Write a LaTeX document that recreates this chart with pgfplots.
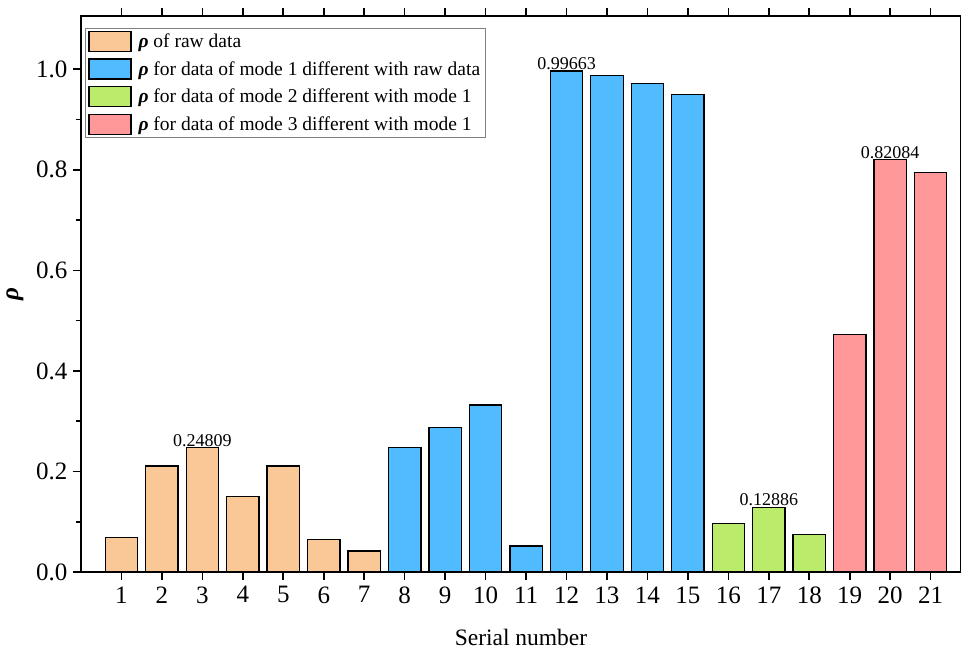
\documentclass[border=0pt]{standalone}
\usepackage{pgfplots}
\pgfplotsset{compat=1.18}
\usepackage{fontspec}
\setmainfont{Liberation Serif}
\definecolor{cpeach}{RGB}{250,200,150}
\definecolor{cblue}{RGB}{80,187,255}
\definecolor{cgreen}{RGB}{186,235,106}
\definecolor{cpink}{RGB}{255,153,153}
\begin{document}
\begin{tikzpicture}
\begin{axis}[
  at={(0,0)}, anchor=south west,
  scale only axis, width=880pt, height=556pt,
  xmin=0, xmax=21.75, ymin=0, ymax=1.106,
  axis line style={line width=1.6pt},
  xtick={1,...,21},
  ytick={0,0.2,0.4,0.6,0.8,1.0},
  minor ytick={0.1,0.3,0.5,0.7,0.9},
  yticklabel style={/pgf/number format/fixed,/pgf/number format/fixed zerofill,/pgf/number format/precision=1},
  /pgf/number format/assume math mode=true,
  tick align=outside,
  major tick length=8pt, minor tick length=5pt,
  every tick/.style={line width=1.6pt, black},
  tick label style={font=\fontsize{25}{28}\selectfont},
  xticklabel style={yshift=-3pt},
  yticklabel style={xshift=-2pt},
  xlabel={Serial number},
  xlabel style={font=\fontsize{23.5}{27}\selectfont, yshift=-19pt},
  ylabel={\textbf{\textit{ρ}}},
  ylabel style={font=\fontsize{25}{28}\selectfont, yshift=6pt},
  ybar, bar width=0.8, bar shift=0pt,
  nodes near coords, point meta=explicit symbolic,
  every node near coord/.append style={font=\fontsize{18}{20}\selectfont, yshift=-3pt},
  legend style={at={(0.0045,0.978)}, anchor=north west, draw=gray, line width=0.8pt,
    font=\fontsize{19.5}{22}\selectfont, row sep=6.5pt, inner xsep=3pt, inner ysep=2pt},
  legend cell align=left,
  legend image code/.code={\draw[#1, line width=1.2pt] (0pt,-10pt) rectangle (42pt,10pt);},
  clip=false,
]
\addplot[draw=black, line width=1.3pt, fill=cpeach] coordinates {
 (1,0.069) [] (2,0.211) [] (3,0.24809) [0.24809] (4,0.150) [] (5,0.211) [] (6,0.064) [] (7,0.042) []};
\addplot[draw=black, line width=1.3pt, fill=cblue] coordinates {
 (8,0.248) [] (9,0.287) [] (10,0.332) [] (11,0.052) [] (12,0.99663) [0.99663] (13,0.9875) [] (14,0.9714) [] (15,0.950) []};
\addplot[draw=black, line width=1.3pt, fill=cgreen] coordinates {
 (16,0.096) [] (17,0.12886) [0.12886] (18,0.075) []};
\addplot[draw=black, line width=1.3pt, fill=cpink] coordinates {
 (19,0.472) [] (20,0.82084) [0.82084] (21,0.794) []};
\legend{\hspace{5pt}\textbf{\textit{ρ}} of raw data,
 \hspace{5pt}\textbf{\textit{ρ}} for data of mode 1 different with raw data,
 \hspace{5pt}\textbf{\textit{ρ}} for data of mode 2 different with mode 1,
 \hspace{5pt}\textbf{\textit{ρ}} for data of mode 3 different with mode 1}
\end{axis}
\pgfresetboundingbox
\path[use as bounding box] (-81pt,-78pt) rectangle (880pt,572pt);
\end{tikzpicture}
\end{document}
